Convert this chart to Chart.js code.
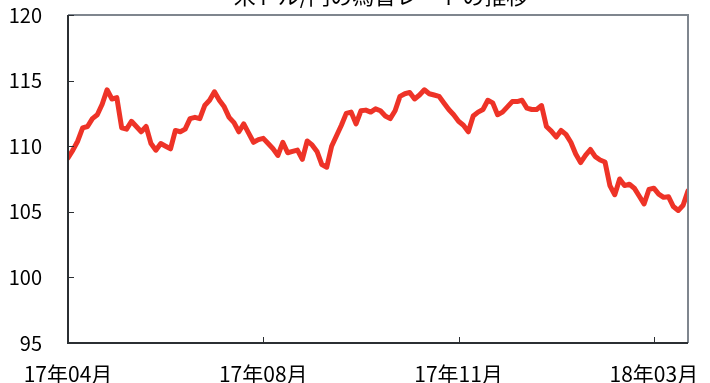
<!DOCTYPE html>
<html>
<head>
<meta charset="utf-8">
<script src="https://cdn.jsdelivr.net/npm/chart.js@4/dist/chart.umd.min.js"></script>
<style>
  html, body { margin: 0; padding: 0; background: #fff; }
  #wrap { width: 710px; height: 383px; position: relative; }
</style>
</head>
<body>
<div id="wrap"><canvas id="rate"></canvas></div>
<script>
// chart title (cut off at the top in the original)
const chartTitle = '米ドル/円の為替レートの推移';

// x tick labels, one every 40 points
const tickLabels = ['17年04月', '17年08月', '17年11月', '18年03月'];
const tickEvery = 40;

// y axis range
const yMin = 95;
const yMax = 120;
const yStep = 5;

// exchange rate
const rates = [
  109.1, 109.7, 110.4, 111.4, 111.5, 112.1, 112.4, 113.2, 114.3, 113.6,
  113.7, 111.4, 111.3, 111.9, 111.5, 111.1, 111.5, 110.2, 109.7, 110.2,
  110.0, 109.8, 111.2, 111.1, 111.3, 112.1, 112.2, 112.1, 113.1, 113.5,
  114.15, 113.5, 113.0, 112.2, 111.8, 111.1, 111.7, 111.0, 110.3, 110.5,
  110.6, 110.2, 109.8, 109.3, 110.3, 109.5, 109.6, 109.7, 109.0, 110.4,
  110.1, 109.6, 108.6, 108.4, 110.0, 110.8, 111.6, 112.5, 112.6, 111.7,
  112.7, 112.75, 112.6, 112.85, 112.7, 112.3, 112.1, 112.7, 113.8, 114.0,
  114.1, 113.6, 113.9, 114.3, 114.0, 113.9, 113.8, 113.3, 112.8, 112.4,
  111.9, 111.6, 111.1, 112.3, 112.6, 112.8, 113.5, 113.3, 112.4, 112.6,
  113.0, 113.4, 113.4, 113.5, 112.9, 112.8, 112.8, 113.1, 111.5, 111.15,
  110.7, 111.2, 110.9, 110.3, 109.4, 108.75, 109.3, 109.75, 109.2, 108.95,
  108.8, 107.0, 106.3, 107.5, 107.0, 107.1, 106.8, 106.2, 105.6, 106.7,
  106.8, 106.35, 106.1, 106.15, 105.4, 105.1, 105.5, 106.6
];

const fontFamily = "'Noto Sans CJK JP', 'Noto Sans', sans-serif";

// frame round the plot area, inward tick marks and the title
const framePlugin = {
  id: 'frame',
  afterDraw(chart) {
    const ctx = chart.ctx;
    const a = chart.chartArea;
    const xs = chart.scales.x;
    const ys = chart.scales.y;
    ctx.save();

    // top and right sides in grey
    ctx.strokeStyle = '#7f868e';
    ctx.lineWidth = 2;
    ctx.beginPath();
    ctx.moveTo(a.left, a.top);
    ctx.lineTo(a.right, a.top);
    ctx.lineTo(a.right, a.bottom);
    ctx.stroke();

    // left and bottom axes
    ctx.strokeStyle = '#2b2f33';
    ctx.beginPath();
    ctx.moveTo(a.left, a.top);
    ctx.lineTo(a.left, a.bottom);
    ctx.lineTo(a.right, a.bottom);
    ctx.stroke();

    // ticks pointing into the plot
    ctx.lineWidth = 1;
    ys.ticks.forEach(t => {
      const y = Math.round(ys.getPixelForValue(t.value)) + 0.5;
      ctx.beginPath();
      ctx.moveTo(a.left, y);
      ctx.lineTo(a.left + 6, y);
      ctx.stroke();
    });
    xs.ticks.forEach(t => {
      const x = Math.round(xs.getPixelForValue(t.value)) + 0.5;
      ctx.beginPath();
      ctx.moveTo(x, a.bottom);
      ctx.lineTo(x, a.bottom - 6);
      ctx.stroke();
    });

    // title, mostly above the canvas
    ctx.fillStyle = '#000';
    ctx.font = '22px ' + fontFamily;
    ctx.textAlign = 'center';
    ctx.textBaseline = 'alphabetic';
    ctx.fillText(chartTitle, 381, 4);
    ctx.restore();
  }
};

function drawChart() {
  const c = document.getElementById('rate');
  const context = c.getContext('2d');

  new Chart(context, {
    type: 'line',
    data: {
      labels: rates.map((v, i) => i),
      datasets: [
        {
          data: rates,
          borderColor: '#ee3327',
          borderWidth: 5,
          borderJoinStyle: 'round',
          borderCapStyle: 'round',
          pointRadius: 0,
          tension: 0,
          fill: false
        }
      ]
    },
    options: {
      responsive: true,
      maintainAspectRatio: false,
      animation: false,
      events: [],
      layout: {
        padding: { top: 15, right: 22, left: 0, bottom: 0 }
      },
      plugins: {
        legend: { display: false },
        tooltip: { enabled: false },
        title: { display: false }
      },
      scales: {
        x: {
          type: 'linear',
          min: 0,
          max: rates.length - 1,
          afterBuildTicks: scale => {
            scale.ticks = tickLabels.map((l, k) => ({ value: k * tickEvery }));
          },
          afterFit: scale => {
            scale.height = 40;
            scale.paddingLeft = 0;
            scale.paddingRight = 0;
          },
          grid: { display: false, drawTicks: false },
          border: { display: false },
          ticks: {
            autoSkip: false,
            maxRotation: 0,
            padding: 18,
            color: '#000',
            font: { family: fontFamily, size: 21 },
            callback: v => tickLabels[Math.round(v / tickEvery)]
          }
        },
        y: {
          min: yMin,
          max: yMax,
          afterFit: scale => {
            scale.width = 68;
            scale.paddingTop = 0;
            scale.paddingBottom = 0;
          },
          grid: { display: false, drawTicks: false },
          border: { display: false },
          ticks: {
            stepSize: yStep,
            padding: 26,
            color: '#000',
            font: { family: fontFamily, size: 20 }
          }
        }
      }
    },
    plugins: [framePlugin]
  });
}

drawChart();
</script>
</body>
</html>
